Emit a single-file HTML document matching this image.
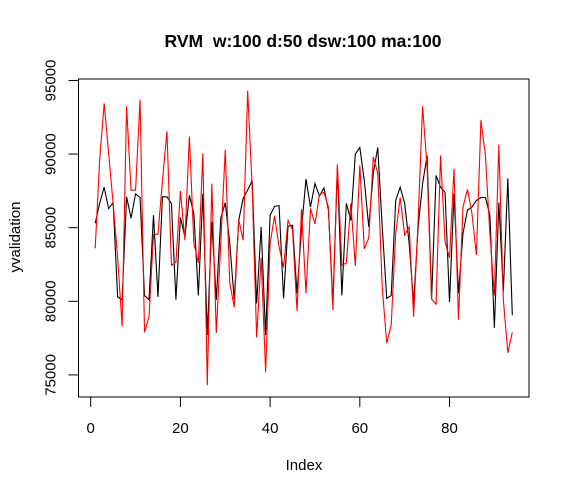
<!DOCTYPE html>
<html><head><meta charset="utf-8"><style>body{margin:0;background:#fff}svg{display:block;font-family:"Liberation Sans",sans-serif}</style></head>
<body>
<svg id="chart" width="570" height="495" viewBox="0 0 570 495"></svg>
<script>
const blackValues=[85300,86660,87750,86300,86700,80300,80100,87100,85650,87300,87050,80400,80100,85850,80300,87100,87100,86650,80100,85700,84350,87200,85950,80400,87300,77700,85400,80100,85650,86700,83950,80100,85500,87000,87550,88200,79850,85050,77700,85850,86450,86500,80200,85100,85150,80550,84900,88300,86400,88000,87150,87700,86200,79850,89100,80400,86650,85500,90000,90450,88200,85050,88700,90450,85050,80200,80400,86850,87750,86650,83950,79850,85050,88000,89900,80150,88550,87750,87400,79950,87300,80550,84600,86200,86400,86850,87050,87050,85850,78200,86700,80650,88350,79050];
const redValues=[83600,89600,93450,90050,86650,83000,78300,93250,87550,87550,93700,77900,78950,84550,84550,88200,91550,82450,82650,87500,84150,91200,83950,82600,90050,74300,88000,77850,83950,90300,81250,79600,85550,84150,94300,87750,77550,82950,75200,83950,85800,83700,82300,85500,84850,79350,86250,80550,86300,85250,87250,87400,86400,79400,89300,82450,82600,86650,82400,89250,83550,84300,89800,88700,80950,77150,78400,84600,87050,84500,85050,78950,85500,93250,89100,80150,79800,89900,84050,82950,89000,78750,86400,87600,85950,83150,92300,89900,84600,80400,90650,80100,76500,77900];
const xTicks=[0,20,40,60,80];
const yTicks=[75000,80000,85000,90000,95000];
const NS="http://www.w3.org/2000/svg";
const svg=document.getElementById('chart');
const L=78.5,R=529,T=79,B=397;
const xMin=-2.72,xMax=97.72,yMin=73500,yMax=95100;
const xs=v=>L+(v-xMin)/(xMax-xMin)*(R-L);
const ys=v=>B-(v-yMin)/(yMax-yMin)*(B-T);
function mk(tag,attrs,parent){const e=document.createElementNS(NS,tag);for(const k in attrs)e.setAttribute(k,attrs[k]);(parent||svg).appendChild(e);return e;}
let t=mk('text',{x:303,y:47,'text-anchor':'middle','font-size':17.5,'font-weight':'bold',style:'white-space:pre'});


t.textContent='RVM  w:100 d:50 dsw:100 ma:100';
let box=mk('rect',{x:L,y:T,width:R-L,height:B-T,fill:'none',stroke:'#000','stroke-width':1});


function series(vals,color,name){
  const pts=vals.map((v,i)=>xs(i+1).toFixed(2)+','+ys(v).toFixed(2)).join(' ');
  const p=mk('polyline',{points:pts,fill:'none',stroke:color,'stroke-width':1.1});
  
  
}
series(blackValues,'#000','black-series-line');
series(redValues,'#f00','red-series-line');
const xg=mk('g',{});


mk('line',{x1:xs(xTicks[0]),x2:xs(xTicks[xTicks.length-1]),y1:B,y2:B,stroke:'#000'},xg);
xTicks.forEach(v=>{
  mk('line',{x1:xs(v),x2:xs(v),y1:B,y2:B+10,stroke:'#000'},xg);
  const l=mk('text',{x:xs(v),y:B+36,'text-anchor':'middle','font-size':15},xg);
  
  
  l.textContent=v;
});
const yg=mk('g',{});


mk('line',{x1:L,x2:L,y1:ys(yTicks[0]),y2:ys(yTicks[yTicks.length-1]),stroke:'#000'},yg);
yTicks.forEach(v=>{
  mk('line',{x1:L,x2:L-10,y1:ys(v),y2:ys(v),stroke:'#000'},yg);
  const bx=L-23;
  const l=mk('text',{x:bx,y:ys(v),'text-anchor':'middle','font-size':15,transform:`rotate(-90 ${bx} ${ys(v)})`},yg);
  
  
  l.textContent=v;
});
let xt=mk('text',{x:304,y:470,'text-anchor':'middle','font-size':15});


xt.textContent='Index';
let yt=mk('text',{x:20,y:237,'text-anchor':'middle','font-size':15,transform:'rotate(-90 20 237)'});


yt.textContent='yvalidation';
</script>
</body></html>
